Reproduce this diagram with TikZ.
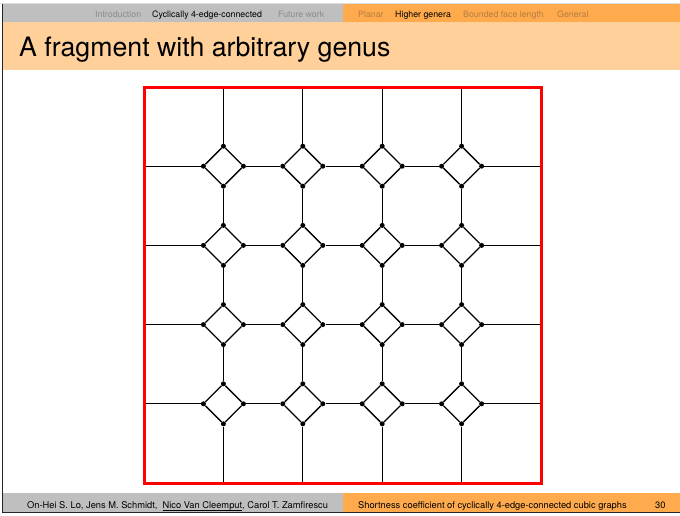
\documentclass[tikz,border=0pt]{standalone}
\usepackage{fontspec}
\setmainfont{TeX Gyre Heros}
\definecolor{hgray}{RGB}{191,191,191}
\definecolor{horange}{RGB}{255,171,77}
\definecolor{tbar}{RGB}{255,208,153}
\definecolor{inactL}{RGB}{140,140,140}
\definecolor{inactR}{RGB}{180,125,65}
\definecolor{fred}{RGB}{255,0,0}
\newcommand\myul[1]{\setbox0\hbox{#1}\rlap{\raisebox{-2.4pt}{\rule{\wd0}{0.9pt}}}\box0}
\tikzset{
  dot/.style={circle,fill=black,inner sep=0pt,minimum size=5pt},
  edge/.style={line width=1.3pt,black},
  navtxt/.style={anchor=base west,inner sep=0pt,font=\fontsize{8.8}{10}\selectfont},
  foottxt/.style={anchor=base west,inner sep=0pt,font=\fontsize{9.3}{11}\selectfont},
  frame/.style={draw=fred,line width=3pt}
}
\begin{document}
\begin{tikzpicture}[x=1pt,y=-1pt]
\useasboundingbox (0,0) rectangle (680,515);
\fill[white] (0,0) rectangle (680,515);
% slide frame
\draw[line width=0.8pt,black!12] (0,3) -- (680,3);
\fill[hgray] (3,4) rectangle (343,22);
\fill[horange] (343,4) rectangle (680,22);
\fill[tbar] (3,22) rectangle (680,70);
\fill[hgray] (3,493) rectangle (343,512);
\fill[horange] (343,493) rectangle (680,512);
\draw[line width=1.2pt,black!85] (2.6,3.5) -- (2.6,512.6) -- (680,512.6);
% header
\node[navtxt,text=inactL] (h1) at (95,17) {Introduction};
\node[navtxt,text=black] (h2) at (152,17) {Cyclically 4-edge-connected};
\node[navtxt,text=inactL] (h3) at (278,17) {Future work};
\node[navtxt,text=inactR] (h4) at (358,17) {Planar};
\node[navtxt,text=black] (h5) at (395,17) {Higher genera};
\node[navtxt,text=inactR] (h6) at (463,17) {Bounded face length};
\node[navtxt,text=inactR] (h7) at (557,17) {General};
% title
\node[anchor=base west,inner sep=0pt,font=\fontsize{26.7}{31}\selectfont] (title) at (19,56) {A fragment with arbitrary genus};
% footer
\node[foottxt] (f1) at (27,508.5) {On-Hei S. Lo, Jens M. Schmidt,\ \ \myul{Nico Van Cleemput}, Carol T. Zamfirescu};
\node[foottxt] (f2) at (358,508.5) {Shortness coefficient of cyclically 4-edge-connected cubic graphs};
\node[foottxt] (f3) at (655,508.5) {30};
% graph
\foreach \i in {1,...,4}{
  \foreach \j in {1,...,4}{
    \pgfmathsetmacro\cx{144+79.4*\i}
    \pgfmathsetmacro\cy{87+79.2*\j}
    \node[dot] (n\i\j) at (\cx,\cy-20) {};
    \node[dot] (e\i\j) at (\cx+20,\cy) {};
    \node[dot] (s\i\j) at (\cx,\cy+20) {};
    \node[dot] (w\i\j) at (\cx-20,\cy) {};
    \draw[edge] (n\i\j) -- (e\i\j) -- (s\i\j) -- (w\i\j) -- (n\i\j);
  }
}
\foreach \k in {1,...,4}{
  \pgfmathsetmacro\cc{144+79.4*\k}
  \pgfmathsetmacro\rr{87+79.2*\k}
  \coordinate (L\k) at (144,\rr);
  \coordinate (R\k) at (541,\rr);
  \coordinate (T\k) at (\cc,87);
  \coordinate (B\k) at (\cc,483);
  \draw[edge] (L\k) -- (w1\k);
  \draw[edge] (e4\k) -- (R\k);
  \draw[edge] (T\k) -- (n\k1);
  \draw[edge] (s\k4) -- (B\k);
}
\foreach \i in {1,2,3}{
  \pgfmathtruncatemacro\ni{\i+1}
  \foreach \j in {1,...,4}{
    \draw[edge] (e\i\j) -- (w\ni\j);
    \draw[edge] (s\j\i) -- (n\j\ni);
  }
}
\draw[frame] (144,87) rectangle (541,483);
\end{tikzpicture}
\end{document}
